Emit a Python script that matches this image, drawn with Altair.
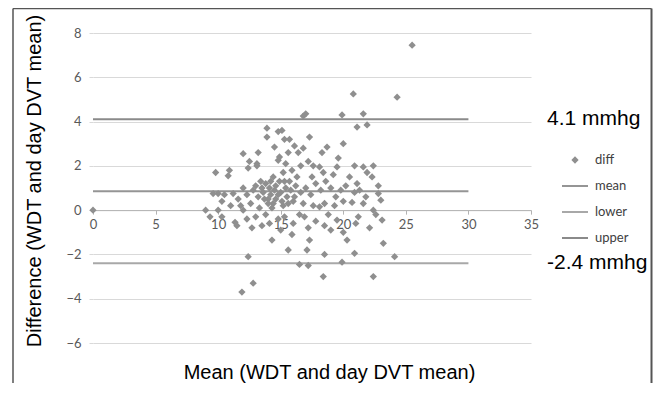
import altair as alt
import pandas as pd

# ---- data ----
diff_x = [
    0.0, 25.5, 20.8, 24.3, 19.9, 21.6, 16.8, 17.0, 21.1, 21.9,
    13.9, 13.9, 14.8, 15.1, 14.5, 15.3, 15.7, 17.3, 16.1, 16.8,
    16.4, 15.6, 14.9, 14.8, 13.2, 12.0, 12.5, 13.1, 12.4, 13.1,
    10.9, 10.8, 9.8, 17.2, 17.6, 18.1, 18.3, 18.7, 20.0, 19.6,
    20.9, 21.6, 22.4, 21.9, 22.3, 22.8, 22.8, 20.9, 19.5, 21.1,
    14.4, 15.2, 14.9,
    13.0, 13.4, 13.8, 14.1, 14.5, 14.2, 13.6, 13.2, 12.8, 12.3,
    12.0, 11.6, 11.2, 10.5, 10.0, 9.6, 10.3, 11.0, 11.8, 12.6,
    13.3, 14.0, 14.6, 15.0, 15.4, 15.8, 15.5, 16.2, 16.6, 17.0,
    17.4, 17.8, 18.2, 18.6, 19.0, 19.4, 19.8, 20.2, 20.5, 19.2,
    18.4, 17.5, 16.3, 15.9, 16.6, 15.4,
    14.3, 15.2, 16.0, 16.8, 17.6, 18.5, 19.3, 20.0, 20.7, 21.6,
    22.4, 21.3, 21.8, 23.0,
    14.0, 14.4, 14.8, 15.1, 15.6, 14.6, 13.7, 15.3, 16.1, 15.7,
    14.2, 13.5,
    9.0, 9.35, 10.0, 10.3, 11.35, 11.5, 12.7, 13.5, 14.3, 16.0,
    15.9, 17.2, 17.3, 18.5, 18.1, 12.0, 13.8, 14.8, 15.3, 16.5,
    17.8, 19.5, 20.0, 20.3, 21.2, 22.1, 23.1, 19.0, 18.8, 15.0,
    13.0, 14.1, 16.9, 12.3, 21.0, 22.6,
    12.4, 11.9, 12.8, 15.6, 17.1, 16.5, 17.2, 18.4, 18.5, 20.9,
    24.1, 19.9, 22.4, 23.2,
]
diff_y = [
    0.0, 7.45, 5.25, 5.1, 4.3, 4.35, 4.25, 4.35, 3.75, 3.85,
    3.7, 3.3, 3.55, 3.6, 2.85, 3.2, 3.2, 3.3, 2.9, 2.8,
    2.6, 2.6, 2.4, 2.25, 2.6, 2.55, 2.2, 2.1, 1.9, 2.0,
    1.8, 1.55, 1.7, 2.2, 2.0, 1.95, 2.6, 2.85, 3.0, 2.35,
    2.0, 1.95, 2.0, 1.7, 1.5, 1.1, 0.75, 0.8, 1.95, 1.2,
    1.5, 1.7, 1.3,
    1.1, 1.3, 1.2, 1.0, 0.9, 0.7, 0.8, 0.6, 0.9, 0.7,
    1.0, 0.5, 0.75, 0.7, 0.75, 0.75, 0.4, 0.2, 0.2, 0.3,
    0.1, 0.3, 0.5, 0.8, 1.0, 0.9, 0.6, 1.1, 0.8, 1.0,
    0.7, 1.2, 0.9, 1.3, 1.0, 0.6, 0.9, 1.1, 1.5, 1.6,
    1.7, 1.5, 1.5, 1.8, 2.0, 2.1,
    0.1, 0.2, 0.4, 0.3, 0.2, 0.3, 0.2, 0.4, 0.35, 0.3,
    0.0, 0.9, 0.6, 0.45,
    0.5, 0.3, 0.7, 0.4, 0.3, 1.1, 0.5, 1.3, 0.6, 1.3,
    1.3, 1.0,
    0.0, -0.3, 0.0, -0.3, -0.55, -0.7, -0.8, -0.7, -1.35, -0.6,
    -1.1, -0.8, -1.35, -0.7, 0.15, 0.0, -0.2, -0.4, -0.3, -0.2,
    -0.5, -0.45, -1.0, -1.35, -0.3, -0.8, -0.45, -0.9, -0.2, -0.9,
    -0.3, -0.6, -0.3, -0.4, -0.6, -0.2,
    -2.1, -3.7, -3.3, -1.8, -1.8, -2.45, -2.5, -3.0, -2.0, -1.95,
    -2.1, -2.35, -3.0, -1.5,
]

point_series = ["diff"]
line_series = ["mean", "lower", "upper"]
line_value = [0.85, -2.4, 4.1]
line_x_start = [0, 0, 0]
line_x_end = [30, 30, 30]
ann_label = ["4.1 mmhg", "-2.4 mmhg"]
ann_value = [4.1, -2.4]
x_ticks = [0, 5, 10, 15, 20, 25, 30, 35]
y_ticks = [-6, -4, -2, 0, 2, 4, 6, 8]
x_title = ["Mean (WDT and day DVT mean)"]
y_title = ["Difference  (WDT and day DVT mean)"]

GREY = "#8f8f8f"
DIAMOND = "M0,-0.28L0.28,0L0,0.28L-0.28,0Z"

points_df = pd.DataFrame({"x": diff_x, "y": diff_y, "series": "diff"})
lines_df = pd.DataFrame({"series": line_series, "value": line_value,
                         "x0": line_x_start, "x1": line_x_end})
ann_df = pd.DataFrame({"label": ann_label, "value": ann_value})
ytitle_df = pd.DataFrame({"t": y_title})
frame_df = pd.DataFrame({"k": [0]})

xscale = alt.Scale(domain=[0, 35], nice=False, zero=False)
yscale = alt.Scale(domain=[-6, 8], nice=False, zero=False)

x_axis = alt.Axis(
    values=x_ticks, offset=-132.86, grid=False,
    domainColor="#b3b3b3", domainWidth=1, tickColor="#b3b3b3", tickSize=4,
    labelFont="Lato", labelFontSize=13, labelColor="#595959", labelPadding=4,
    labelFlush=False,
    title=x_title[0], titleFont="Liberation Sans",
    titleFontSize=20, titleFontWeight="normal", titleColor="black",
    titleX=236, titleY=162, titleBaseline="middle", titleAlign="center",
)
y_axis = alt.Axis(
    values=y_ticks, domain=False, grid=True, gridColor="#d9d9d9", gridWidth=1,
    ticks=True, tickColor="#d9d9d9", tickSize=4,
    labelFont="Lato", labelFontSize=13, labelColor="#595959", labelPadding=8,
    labelFlush=False, title=None,
)

LEG = dict(labelFont="Lato", labelFontSize=13, labelColor="#404040",
           labelOffset=6, title=None, orient="none", padding=0,
           symbolSize=676)

lines = alt.Chart(lines_df).mark_rule(strokeWidth=2).encode(
    x=alt.X("x0:Q", scale=xscale, axis=x_axis, title=x_title[0]),
    x2="x1:Q",
    y=alt.Y("value:Q", scale=yscale, axis=y_axis, title=None),
    color=alt.Color(
        "series:N",
        scale=alt.Scale(domain=line_series,
                        range=["#959595", "#a8a8a8", "#8a8a8a"]),
        legend=alt.Legend(legendX=468, legendY=139, symbolType="stroke",
                          symbolStrokeWidth=2, rowPadding=5, **LEG),
    ),
)

points = alt.Chart(points_df).mark_point(
    filled=True, size=676, opacity=1, color=GREY
).encode(
    x=alt.X("x:Q", scale=xscale, axis=x_axis, title=x_title[0]),
    y=alt.Y("y:Q", scale=yscale, axis=y_axis, title=None),
    shape=alt.Shape(
        "series:N",
        scale=alt.Scale(domain=point_series, range=[DIAMOND]),
        legend=alt.Legend(legendX=468, legendY=113, rowPadding=0, **LEG),
    ),
)

ann = alt.Chart(ann_df).mark_text(
    align="left", baseline="middle", font="Liberation Sans",
    fontSize=21, color="black"
).encode(
    x=alt.value(454),
    y=alt.Y("value:Q", scale=yscale, axis=y_axis, title=None),
    text="label:N",
)

ytitle = alt.Chart(ytitle_df).mark_text(
    align="center", baseline="middle", font="Liberation Sans",
    fontSize=20, fontWeight="normal", color="black", angle=270
).encode(
    x=alt.value(-58), y=alt.value(148), text="t:N",
)

FRAME = "#555555"
frame_left = alt.Chart(frame_df).mark_rule(color=FRAME, strokeWidth=1.5).encode(
    x=alt.value(-80), y=alt.value(-24.5), y2=alt.value(352))
frame_right = alt.Chart(frame_df).mark_rule(color=FRAME, strokeWidth=2).encode(
    x=alt.value(558.5), y=alt.value(-24.5), y2=alt.value(352))
frame_top = alt.Chart(frame_df).mark_rule(color=FRAME, strokeWidth=1.5).encode(
    x=alt.value(-80), x2=alt.value(558.5), y=alt.value(-24.5))

chart = alt.layer(
    lines, points, ann, ytitle, frame_left, frame_right, frame_top
).properties(
    width=438, height=310,
    padding={"left": 85, "top": 25, "right": 122, "bottom": 40},
    autosize=alt.AutoSizeParams(type="none"),
    background="white",
).configure_view(stroke=None).configure_axis(titleFontWeight="normal")

chart.save("out.html", embed_options={"renderer": "svg", "actions": False})
